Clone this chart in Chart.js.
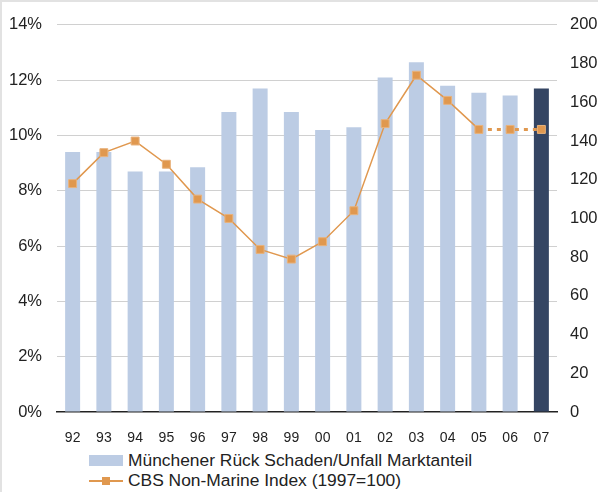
<!DOCTYPE html>
<html>
<head>
<meta charset="utf-8">
<script src="https://cdn.jsdelivr.net/npm/chart.js@4"></script>
<style>
  html, body { margin: 0; padding: 0; background: #fff; }
  #wrap { position: relative; width: 598px; height: 492px; box-sizing: border-box;
          border-top: 2px solid #e2e2e2; border-left: 2px solid #e2e2e2; }
  #chartBox { position: absolute; left: -2px; top: -2px; width: 598px; height: 448px; }
  .leg { position: absolute; left: 87px; font: 17.4px "Liberation Sans", Arial, sans-serif; color: #222;
         display: flex; align-items: center; white-space: nowrap; }
  .swatch { width: 34px; height: 11px; background: #bccce4; margin-right: 5px; }
  .lineSw { position: relative; width: 34px; height: 10px; margin-right: 5px; }
  .lineSw::before { content: ''; position: absolute; left: 0; right: 0; top: 4px; height: 2px; background: #e0984f; }
  .lineSw::after { content: ''; position: absolute; left: 13px; top: 1px; width: 8px; height: 8px; background: #e0984f; }
</style>
</head>
<body>
<div id="wrap">
  <div id="chartBox"><canvas id="myChart" width="598" height="448"></canvas></div>
  <div class="leg" style="top:448px"><div class="swatch"></div>Münchener Rück Schaden/Unfall Marktanteil</div>
  <div class="leg" style="top:468px"><div class="lineSw"></div>CBS Non-Marine Index (1997=100)</div>
</div>
<script>
const years = ['92', '93', '94', '95', '96', '97', '98', '99', '00', '01', '02', '03', '04', '05', '06', '07']
// market share in %
const marketShare = [9.4, 9.4, 8.7, 8.7, 8.85, 10.85, 11.7, 10.85, 10.2, 10.3, 12.1, 12.65, 11.8, 11.55, 11.45, 11.7]
// CBS index, 1997 = 100
const cbsIndex = [118, 134, 140, 128, 110, 100, 84, 79, 88, 104, 149, 174, 161, 146, 146, 146]
const leftTicks = [0, 2, 4, 6, 8, 10, 12, 14]
const rightTicks = [0, 20, 40, 60, 80, 100, 120, 140, 160, 180, 200]

const barColors = years.map((y, i) => i === years.length - 1 ? '#344563' : '#bccce4')
const orange = '#e0984f'
const dottedFrom = 13 // segments after 05 are estimates

const config = {
  type: 'bar',
  data: {
    labels: years,
    datasets: [
      {
        type: 'line',
        label: 'CBS Non-Marine Index (1997=100)',
        data: cbsIndex,
        yAxisID: 'y1',
        borderColor: orange,
        backgroundColor: orange,
        borderWidth: 1.5,
        pointStyle: 'rect',
        pointRadius: 5.6,
        pointBorderWidth: 1,
        pointBorderColor: '#e8b27c',
        pointBackgroundColor: orange,
        tension: 0,
        segment: {
          borderDash: ctx => ctx.p0DataIndex >= dottedFrom ? [4, 5] : undefined,
          borderWidth: ctx => ctx.p0DataIndex >= dottedFrom ? 3 : 1.5
        },
        order: 0
      },
      {
        label: 'Münchener Rück Schaden/Unfall Marktanteil',
        data: marketShare,
        yAxisID: 'y',
        backgroundColor: barColors,
        categoryPercentage: 1,
        barPercentage: 0.48,
        order: 1
      }
    ]
  },
  options: {
    responsive: false,
    animation: false,
    layout: { padding: { top: 20, bottom: 0, left: 0, right: 0 } },
    plugins: {
      legend: { display: false },
      tooltip: { enabled: false }
    },
    scales: {
      x: {
        grid: { display: false, drawTicks: false },
        border: { display: true, color: '#222', width: 1.5 },
        ticks: { padding: 18, color: '#222', font: { family: 'Liberation Sans', size: 14 } },
        afterFit: s => { s.height = 36 }
      },
      y: {
        position: 'left',
        min: 0,
        max: 14,
        afterBuildTicks: s => { s.ticks = leftTicks.map(v => ({ value: v })) },
        grid: {
          drawTicks: false,
          color: ctx => ctx.tick && ctx.tick.value === 0 ? 'rgba(0,0,0,0)' : '#d0d0d0',
          lineWidth: 1
        },
        border: { display: false },
        ticks: {
          padding: 15,
          color: '#222',
          font: { family: 'Liberation Sans', size: 16.5 },
          callback: v => v + '%'
        },
        afterFit: s => { s.width = 57 }
      },
      y1: {
        position: 'right',
        min: 0,
        max: 200,
        afterBuildTicks: s => { s.ticks = rightTicks.map(v => ({ value: v })) },
        grid: { display: false, drawTicks: false },
        border: { display: false },
        ticks: {
          padding: 13,
          color: '#222',
          font: { family: 'Liberation Sans', size: 16.5 }
        },
        afterFit: s => { s.width = 41 }
      }
    }
  }
}

const myChart = new Chart(document.getElementById('myChart'), config)
</script>
</body>
</html>
